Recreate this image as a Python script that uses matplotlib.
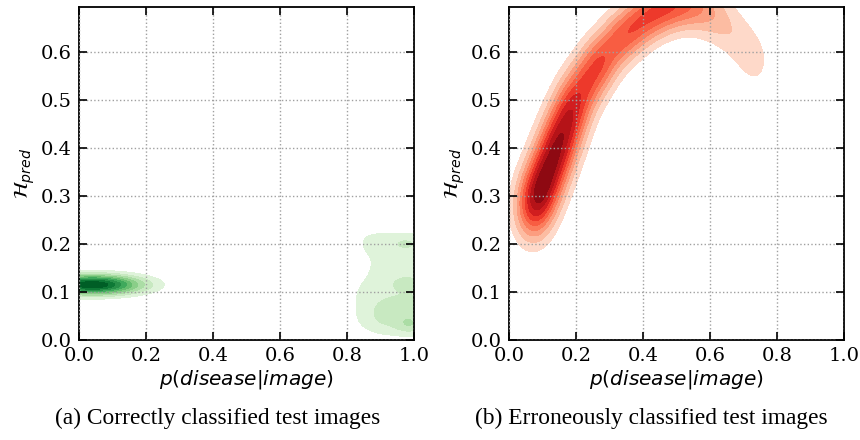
import numpy as np
import matplotlib
matplotlib.use("Agg")
import matplotlib.pyplot as plt

# ─── Data (density centres, weights, spreads) ────────────────────────────────
# (b) erroneous: points along the ridge of the curved band
red_x = [0.06, 0.075, 0.10, 0.125, 0.15, 0.175, 0.20, 0.24, 0.28, 0.33,
         0.38, 0.43, 0.48, 0.53, 0.58, 0.63, 0.68, 0.72, 0.745]
red_y = [0.26, 0.28, 0.32, 0.365, 0.41, 0.455, 0.50, 0.545, 0.585, 0.625,
         0.655, 0.68, 0.695, 0.70, 0.69, 0.665, 0.63, 0.595, 0.57]
red_w = [0.3, 0.95, 1.0, 1.0, 0.95, 0.86, 0.76, 0.7, 0.66, 0.63,
         0.62, 0.6, 0.56, 0.48, 0.36, 0.26, 0.19, 0.14, 0.12]
red_sx = [0.038, 0.038, 0.038, 0.038, 0.038, 0.038, 0.037, 0.036, 0.035, 0.035,
          0.035, 0.035, 0.035, 0.035, 0.035, 0.035, 0.035, 0.035, 0.035]
red_sy = [0.048, 0.048, 0.048, 0.048, 0.047, 0.046, 0.044, 0.042, 0.04, 0.038,
          0.037, 0.036, 0.036, 0.036, 0.037, 0.038, 0.04, 0.042, 0.044]

# (a) correct: tight blob near p=0 ...
blob_x, blob_y, blob_w, blob_sx, blob_sy = 0.04, 0.115, 1.0, 0.10, 0.014
# ... and a broad low patch near p=1 (weights per row/column)
patch_cols = [0.85, 0.91, 0.97, 1.03]
patch_rows = [0.045, 0.095, 0.148, 0.205]
patch_w = [[0.055, 0.105, 0.11, 0.11],     # y = 0.045
           [0.06, 0.06, 0.065, 0.065],     # y = 0.095
           [0.025, 0.05, 0.05, 0.05],      # y = 0.148
           [0.055, 0.055, 0.055, 0.055]]   # y = 0.205
patch_sx, patch_sy = 0.04, 0.027
# small bumps inside the patch
bump_x = [0.975, 0.98, 0.985]
bump_y = [0.20, 0.118, 0.03]
bump_w = [0.014, 0.022, 0.018]
bump_sx = [0.025, 0.03, 0.025]
bump_sy = [0.008, 0.01, 0.011]

x_ticks = [0.0, 0.2, 0.4, 0.6, 0.8, 1.0]
y_ticks = [0.0, 0.1, 0.2, 0.3, 0.4, 0.5, 0.6]
Y_MAX = np.log(2)
captions = ["(a) Correctly classified test images",
            "(b) Erroneously classified test images"]
# ─────────────────────────────────────────────────────────────────────────────

green_x, green_y, green_w = [blob_x], [blob_y], [blob_w]
green_sx, green_sy = [blob_sx], [blob_sy]
for i, yc in enumerate(patch_rows):
    for j, xc in enumerate(patch_cols):
        green_x.append(xc)
        green_y.append(yc)
        green_w.append(patch_w[i][j])
        green_sx.append(patch_sx)
        green_sy.append(patch_sy)
green_x += bump_x
green_y += bump_y
green_w += bump_w
green_sx += bump_sx
green_sy += bump_sy

gx, gy = np.meshgrid(np.linspace(-0.15, 1.15, 500), np.linspace(-0.1, 0.85, 400))


def density(cx, cy, w, sx, sy):
    d = np.zeros_like(gx)
    for x0, y0, wi, a, b in zip(cx, cy, w, sx, sy):
        d += wi * np.exp(-0.5 * ((gx - x0) / a) ** 2 - 0.5 * ((gy - y0) / b) ** 2) / (a * b)
    return d


plt.rcParams["mathtext.fontset"] = "dejavusans"
fig = plt.figure(figsize=(8.6, 4.4), dpi=100)
ax_a = fig.add_axes([79 / 860, 100 / 440, 335 / 860, 333 / 440])
ax_b = fig.add_axes([509 / 860, 100 / 440, 335 / 860, 333 / 440])

panels = [
    (ax_a, density(green_x, green_y, green_w, green_sx, green_sy), plt.cm.Greens),
    (ax_b, density(red_x, red_y, red_w, red_sx, red_sy), plt.cm.Reds),
]

for ax, d, cmap in panels:
    # 10 linear levels, lowest band left unshaded
    lv = np.linspace(0, d.max(), 11)[1:]
    cols = cmap(np.linspace(0.15, 0.92, len(lv) - 1))
    ax.contourf(gx, gy, d, levels=lv, colors=cols, zorder=1)
    ax.set_xlim(0, 1)
    ax.set_ylim(0, Y_MAX)
    ax.set_xticks(x_ticks)
    ax.set_yticks(y_ticks)
    ax.set_xticklabels([f"{v:.1f}" for v in x_ticks], family="DejaVu Serif", fontsize=14)
    ax.set_yticklabels([f"{v:.1f}" for v in y_ticks], family="DejaVu Serif", fontsize=14)
    ax.tick_params(direction="in", top=True, right=True, length=6, width=1.2, pad=5)
    ax.grid(True, linestyle=":", color="#a0a0a0", linewidth=1.0, zorder=2)
    ax.set_axisbelow(False)
    for s in ax.spines.values():
        s.set_linewidth(1.3)
    ax.set_xlabel(r"$p(disease|image)$", fontsize=14.5, labelpad=2)
    ax.set_ylabel(r"$\mathcal{H}_{pred}$", fontsize=14.5, labelpad=3)

fig.text(218 / 860, 1 - 418 / 440, captions[0], ha="center", va="center",
         family="Liberation Serif", fontsize=16.8)
fig.text(651 / 860, 1 - 418 / 440, captions[1], ha="center", va="center",
         family="Liberation Serif", fontsize=16.8)

fig.savefig("out.png", dpi=100)
